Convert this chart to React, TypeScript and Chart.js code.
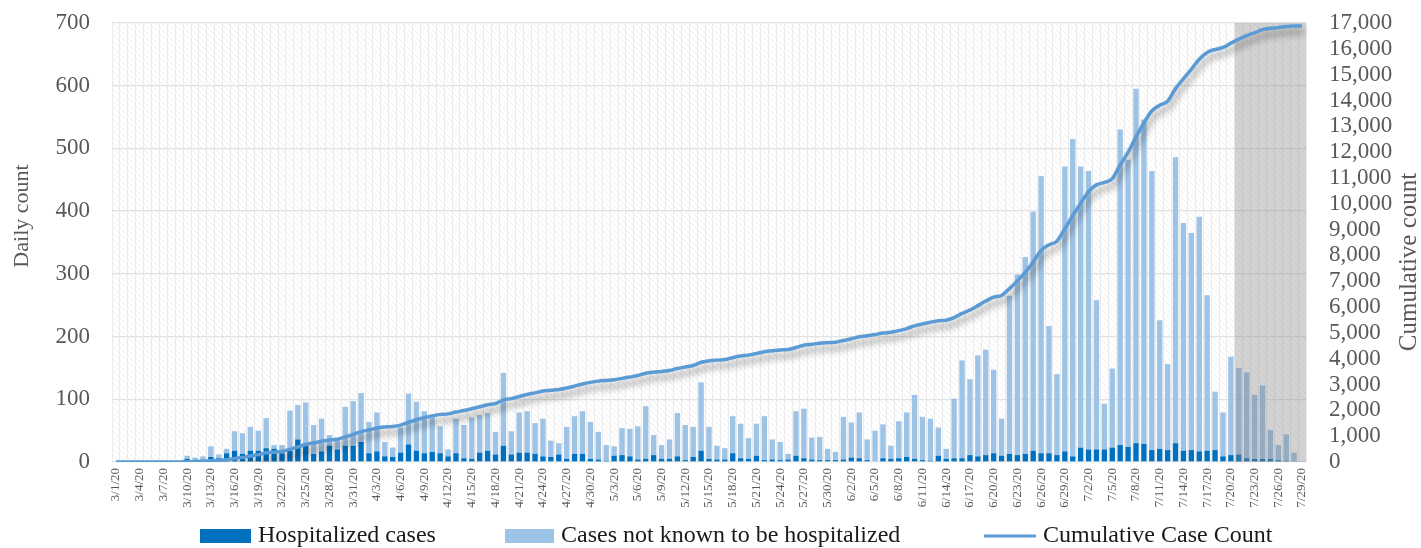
import React, { useEffect, useRef } from "react";
import { Chart, registerables } from "chart.js";

Chart.register(...registerables);

// ---------- categories ----------
const monthLengths: [number, number][] = [
  [3, 31],
  [4, 30],
  [5, 31],
  [6, 30],
  [7, 29],
];
const dateLabels: string[] = [];
for (const [m, n] of monthLengths) for (let d = 1; d <= n; d++) dateLabels.push(`${m}/${d}/20`);

// ---------- series ----------
const hospitalized: number[] = [
  0, 0, 0, 0, 0, 0, 0, 0, 0, 5, 2, 2, 8, 6, 14, 18, 13, 18, 18, 22, 21, 14, 18, 36, 26, 13, 17, 26, 20, 26, 26,
  32, 14, 17, 9, 8, 15, 28, 18, 14, 16, 14, 9, 14, 6, 5, 15, 18, 12, 26, 12, 15, 15, 13, 9, 8, 12, 5, 13, 13, 5,
  4, 2, 10, 11, 9, 4, 5, 11, 5, 5, 9, 3, 8, 18, 5, 4, 4, 14, 6, 5, 10, 3, 4, 3, 4, 10, 6, 4, 3, 3, 3,
  4, 7, 6, 3, 1, 6, 5, 6, 8, 5, 3, 2, 10, 5, 6, 6, 11, 9, 11, 14, 10, 13, 11, 13, 18, 14, 14, 11, 17, 9,
  23, 20, 20, 20, 23, 27, 24, 30, 29, 19, 21, 19, 30, 18, 19, 17, 18, 19, 9, 11, 12, 6, 5, 5, 5, 3, 2, 1, 0,
];
const notHospitalized: number[] = [
  0, 0, 0, 0, 0, 0, 0, 0, 0, 5, 5, 7, 17, 6, 7, 31, 33, 38, 32, 48, 6, 13, 64, 55, 69, 46, 52, 17, 14, 62, 71,
  78, 50, 62, 23, 15, 40, 81, 78, 67, 55, 43, 11, 55, 53, 66, 60, 60, 36, 116, 37, 64, 66, 49, 60, 26, 18, 51, 60, 68, 59,
  44, 25, 15, 43, 44, 53, 84, 32, 22, 31, 69, 56, 48, 109, 51, 22, 18, 59, 55, 33, 51, 70, 32, 29, 9, 71, 79, 35, 37, 18, 13,
  68, 56, 73, 33, 49, 54, 21, 59, 71, 102, 69, 67, 45, 16, 95, 156, 121, 161, 168, 133, 59, 252, 288, 314, 381, 442, 203, 129, 454, 506,
  448, 444, 238, 73, 126, 503, 458, 565, 517, 445, 205, 137, 456, 363, 346, 374, 248, 93, 70, 157, 138, 137, 102, 117, 46, 24, 42, 14, 0,
];
const cumulative: number[] = [
  0, 0, 0, 0, 0, 0, 0, 0, 0, 10, 17, 26, 51, 63, 84, 133, 179, 235, 285, 355, 382, 409, 491, 582, 677, 736, 805, 848, 882, 970, 1067,
  1177, 1241, 1320, 1352, 1375, 1430, 1539, 1635, 1716, 1787, 1844, 1864, 1933, 1992, 2063, 2138, 2216, 2264, 2406, 2455, 2534, 2615, 2677, 2746, 2780, 2810, 2866, 2939, 3020, 3084,
  3132, 3159, 3184, 3238, 3291, 3348, 3437, 3480, 3507, 3543, 3621, 3680, 3736, 3863, 3919, 3945, 3967, 4040, 4101, 4139, 4200, 4273, 4309, 4341, 4354, 4435, 4520, 4559, 4599, 4620, 4636,
  4708, 4771, 4850, 4886, 4936, 4996, 5022, 5087, 5166, 5273, 5345, 5414, 5469, 5490, 5591, 5753, 5885, 6055, 6234, 6381, 6450, 6715, 7014, 7341, 7740, 8196, 8413, 8553, 9024, 9539,
  10010, 10474, 10732, 10825, 10974, 11504, 11986, 12581, 13127, 13591, 13817, 13973, 14459, 14840, 15205, 15596, 15862, 15974, 16053, 16221, 16371, 16514, 16621, 16743, 16794, 16821, 16865, 16880, 16880,
];

const seriesNames = ["Hospitalized cases", "Cases not known to be hospitalized", "Cumulative Case Count"];
const leftMax = 700;
const leftStep = 100;
const rightMax = 17000;
const rightStep = 1000;
const shadeFromLabel = "7/21/20";
const leftTitle = "Daily count";
const rightTitle = "Cumulative count";

const FONT = "'Liberation Serif', 'DejaVu Serif', serif";
const DARK = "#0070C0";
const LIGHT = "#9DC3E6";
const LINE = "#5B9BD5";

function makeHatch(ctx: CanvasRenderingContext2D) {
  const c = document.createElement("canvas");
  c.width = 6;
  c.height = 6;
  const g = c.getContext("2d")!;
  g.fillStyle = "#ffffff";
  g.fillRect(0, 0, 6, 6);
  g.strokeStyle = "#F0F0F0";
  g.lineWidth = 1;
  g.beginPath();
  g.moveTo(-1, -1);
  g.lineTo(7, 7);
  g.moveTo(-1, 5);
  g.lineTo(1, 7);
  g.moveTo(5, -1);
  g.lineTo(7, 1);
  g.stroke();
  return ctx.createPattern(c, "repeat");
}

const decorPlugin = {
  id: "decor",
  beforeDraw(chart: any) {
    const { ctx, chartArea } = chart;
    ctx.save();
    const p = makeHatch(ctx);
    if (p) ctx.fillStyle = p;
    ctx.fillRect(chartArea.left, chartArea.top, chartArea.right - chartArea.left, chartArea.bottom - chartArea.top);
    ctx.restore();
  },
  beforeDatasetDraw(chart: any, args: any) {
    if (args.index !== 2) return;
    const { ctx, chartArea, scales } = chart;
    const i = dateLabels.indexOf(shadeFromLabel);
    const x0 = (scales.x.getPixelForValue(i - 1) + scales.x.getPixelForValue(i)) / 2;
    ctx.save();
    ctx.fillStyle = "rgba(128,128,128,0.35)";
    ctx.fillRect(x0, chartArea.top, chartArea.right - x0, chartArea.bottom - chartArea.top);
    ctx.restore();
    ctx.save();
    ctx.shadowColor = "rgba(0,0,0,0.42)";
    ctx.shadowBlur = 7;
    ctx.shadowOffsetX = 2;
    ctx.shadowOffsetY = 6;
  },
  afterDatasetDraw(chart: any, args: any) {
    if (args.index !== 2) return;
    chart.ctx.restore();
  },
  afterDraw(chart: any) {
    const { ctx } = chart;
    ctx.save();
    ctx.fillStyle = "#595959";
    ctx.font = `22px ${FONT}`;
    ctx.textAlign = "center";
    ctx.textBaseline = "middle";
    ctx.translate(22, 216);
    ctx.rotate(-Math.PI / 2);
    ctx.fillText(leftTitle, 0, 0);
    ctx.restore();
    ctx.save();
    ctx.fillStyle = "#595959";
    ctx.font = `25px ${FONT}`;
    ctx.textAlign = "center";
    ctx.textBaseline = "middle";
    ctx.translate(1409, 262);
    ctx.rotate(-Math.PI / 2);
    ctx.fillText(rightTitle, 0, 0);
    ctx.restore();

    // legend
    ctx.save();
    const ds = chart.data.datasets;
    const ly = 536;
    ctx.font = `24px ${FONT}`;
    ctx.textBaseline = "middle";
    ctx.textAlign = "left";
    ctx.fillStyle = ds[0].backgroundColor;
    ctx.fillRect(200, ly - 7, 51, 14);
    ctx.fillStyle = "#1a1a1a";
    ctx.fillText(ds[0].label, 258, ly);
    ctx.fillStyle = ds[1].backgroundColor;
    ctx.fillRect(505, ly - 7, 49, 14);
    ctx.fillStyle = "#1a1a1a";
    ctx.fillText(ds[1].label, 561, ly);
    ctx.strokeStyle = ds[2].borderColor;
    ctx.lineWidth = 3;
    ctx.beginPath();
    ctx.moveTo(984, ly);
    ctx.lineTo(1036, ly);
    ctx.stroke();
    ctx.fillStyle = "#1a1a1a";
    ctx.fillText(ds[2].label, 1043, ly);
    ctx.restore();
  },
};

export default function App() {
  const ref = useRef<HTMLCanvasElement | null>(null);
  useEffect(() => {
    if (!ref.current) return;
    const chart = new Chart(ref.current, {
      data: {
        labels: dateLabels,
        datasets: [
          {
            type: "bar",
            label: seriesNames[0],
            data: hospitalized,
            backgroundColor: DARK,
            stack: "s",
            yAxisID: "y",
            order: 2,
            barPercentage: 0.68,
            categoryPercentage: 1,
          },
          {
            type: "bar",
            label: seriesNames[1],
            data: notHospitalized,
            backgroundColor: LIGHT,
            stack: "s",
            yAxisID: "y",
            order: 2,
            barPercentage: 0.68,
            categoryPercentage: 1,
          },
          {
            type: "line",
            label: seriesNames[2],
            data: cumulative,
            borderColor: LINE,
            borderWidth: 3.5,
            pointRadius: 0,
            cubicInterpolationMode: "monotone",
            yAxisID: "y1",
            order: 1,
          },
        ],
      } as any,
      options: {
        responsive: false,
        animation: false,
        devicePixelRatio: 1,
        layout: { padding: { top: 23, bottom: 26, left: 0, right: 0 } },
        plugins: { legend: { display: false }, tooltip: { enabled: false }, title: { display: false } },
        scales: {
          x: {
            stacked: true,
            offset: true,
            grid: { color: "#ECECEC", lineWidth: 1, drawTicks: false, offset: true },
            border: { display: false },
            ticks: {
              autoSkip: false,
              maxRotation: 90,
              minRotation: 90,
              padding: 6,
              font: { family: FONT, size: 13 },
              color: "#595959",
              callback: (_v: any, i: number) => (i % 3 === 0 ? dateLabels[i] : ""),
            },
            afterFit: (s: any) => {
              s.height = 60;
            },
          },
          y: {
            stacked: true,
            min: 0,
            max: leftMax,
            ticks: { stepSize: leftStep, autoSkip: false, padding: 2, font: { family: FONT, size: 23 }, color: "#595959" },
            grid: { color: "#E2E2E2", lineWidth: 1.3, drawTicks: true, tickLength: 20, tickColor: "rgba(0,0,0,0)" },
            border: { display: false },
            afterFit: (s: any) => {
              s.width = 112;
            },
          },
          y1: {
            position: "right",
            min: 0,
            max: rightMax,
            ticks: {
              stepSize: rightStep,
              autoSkip: false,
              padding: 2,
              font: { family: FONT, size: 23 },
              color: "#595959",
              callback: (v: any) => Number(v).toLocaleString("en-US"),
            },
            grid: {
              display: true,
              drawOnChartArea: false,
              drawTicks: true,
              tickLength: 21,
              color: "rgba(0,0,0,0)",
              tickColor: "rgba(0,0,0,0)",
            },
            border: { display: false },
            afterFit: (s: any) => {
              s.width = 115;
            },
          },
        },
      } as any,
      plugins: [decorPlugin],
    });
    return () => chart.destroy();
  }, []);
  return (
    <div style={{ position: "fixed", left: 0, top: 0, width: 1421, height: 548, background: "#fff" }}>
      <canvas ref={ref} width={1421} height={548} style={{ display: "block" }} />
    </div>
  );
}
